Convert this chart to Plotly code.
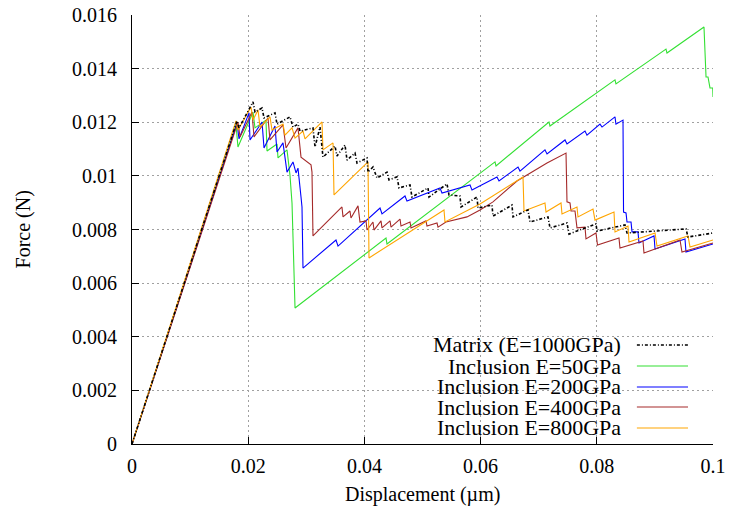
import plotly.graph_objects as go

# ---- data (displacement in µm, force in N) ----
matrix_x = [0, 0.01807, 0.01842, 0.02083, 0.02117, 0.02238, 0.02272, 0.02461, 0.02496, 0.02719, 0.02771,
            0.02857, 0.02892, 0.03115, 0.03150, 0.03236, 0.03287, 0.03494, 0.03528, 0.03666, 0.03701,
            0.03838, 0.03873, 0.04045, 0.04062, 0.04148, 0.04217, 0.04389, 0.04423, 0.04561, 0.04596,
            0.04785, 0.04819, 0.05095, 0.05112, 0.05422, 0.05456, 0.05645, 0.05663, 0.05938, 0.05955,
            0.06196, 0.06213, 0.06540, 0.06558, 0.06816, 0.06850, 0.07160, 0.07194, 0.07487, 0.07522,
            0.07986, 0.08003, 0.08485, 0.08520, 0.09535, 0.09570, 0.1]
matrix_y = [0, 0.01205, 0.01179, 0.01276, 0.01238, 0.01253, 0.01216, 0.01235, 0.01193, 0.01220, 0.01182,
            0.01193, 0.01167, 0.01179, 0.01108, 0.01182, 0.01070, 0.01111, 0.01074, 0.01115, 0.01059,
            0.01085, 0.01048, 0.01067, 0.01014, 0.01033, 0.00992, 0.01014, 0.00985, 0.00996, 0.00955,
            0.00966, 0.00921, 0.00955, 0.00921, 0.00970, 0.00929, 0.00925, 0.00884, 0.00921, 0.00880,
            0.00891, 0.00850, 0.00891, 0.00847, 0.00873, 0.00828, 0.00847, 0.00806, 0.00824, 0.00783,
            0.00821, 0.00794, 0.00817, 0.00787, 0.00802, 0.00772, 0.00787]

e50_x = [0, 0.0179, 0.01824, 0.02083, 0.02117, 0.02306, 0.02324, 0.02496, 0.02513, 0.02668, 0.02719,
         0.02754, 0.02771, 0.02806, 0.04372, 0.04389, 0.06248, 0.06265, 0.07177, 0.07194, 0.08313,
         0.08330, 0.09191, 0.09208, 0.09845, 0.09880, 0.09914, 0.09948, 0.09995, 0.1]
e50_y = [0, 0.01190, 0.01108, 0.01238, 0.01179, 0.01208, 0.01093, 0.01119, 0.01067, 0.01097, 0.01003,
         0.00899, 0.00772, 0.00507, 0.00768, 0.00746, 0.01052, 0.01037, 0.01201, 0.01186, 0.01358,
         0.01343, 0.01473, 0.01458, 0.01555, 0.01369, 0.01369, 0.01328, 0.01328, 0.01294]

e200_x = [0, 0.01807, 0.01842, 0.02014, 0.02031, 0.02238, 0.02272, 0.02461, 0.02496, 0.02599, 0.02668,
          0.02771, 0.02823, 0.02857, 0.02909, 0.02926, 0.02943, 0.03511, 0.03546, 0.04269, 0.04303,
          0.04699, 0.04733, 0.05301, 0.05336, 0.05818, 0.05852, 0.06282, 0.06317, 0.06644, 0.06678,
          0.07108, 0.07143, 0.07453, 0.07487, 0.07797, 0.07831, 0.08055, 0.08090, 0.08313, 0.08330,
          0.08451, 0.08460, 0.08503, 0.08520, 0.08589, 0.08606, 0.08709, 0.08726, 0.08985, 0.09002,
          0.09518, 0.09535, 0.1]
e200_y = [0, 0.01197, 0.01138, 0.01235, 0.01134, 0.01201, 0.01104, 0.01186, 0.01089, 0.01123, 0.01014,
          0.01052, 0.01011, 0.01029, 0.00921, 0.00884, 0.00656, 0.00761, 0.00738, 0.00880, 0.00858,
          0.00925, 0.00906, 0.00955, 0.00936, 0.00966, 0.00947, 0.00996, 0.00981, 0.01033, 0.01018,
          0.01097, 0.01082, 0.01134, 0.01119, 0.01167, 0.01152, 0.01193, 0.01182, 0.01220, 0.01193,
          0.01208, 0.00865, 0.00862, 0.00828, 0.00828, 0.00791, 0.00791, 0.00750, 0.00776, 0.00727,
          0.00765, 0.00716, 0.00746]

e400_x = [0, 0.01824, 0.01859, 0.02065, 0.02100, 0.02341, 0.02375, 0.02599, 0.02651, 0.02857, 0.02909,
          0.03081, 0.03098, 0.03115, 0.03614, 0.03632, 0.03752, 0.03769, 0.03890, 0.03924, 0.04028,
          0.04045, 0.04148, 0.04165, 0.04286, 0.04303, 0.04441, 0.04458, 0.04613, 0.04630, 0.04785,
          0.04802, 0.05060, 0.05077, 0.05250, 0.05267, 0.05404, 0.05645, 0.05766, 0.05990, 0.06213,
          0.06627, 0.07143, 0.07470, 0.07487, 0.07539, 0.07556, 0.07625, 0.07642, 0.07659, 0.07797,
          0.07814, 0.07986, 0.08012, 0.08382, 0.08399, 0.08795, 0.08812, 0.09432, 0.09466, 0.1]
e400_y = [0, 0.01201, 0.01145, 0.01238, 0.01145, 0.01216, 0.01134, 0.01190, 0.01104, 0.01179, 0.01070,
          0.01041, 0.01014, 0.00776, 0.00884, 0.00847, 0.00869, 0.00843, 0.00888, 0.00828, 0.00832,
          0.00798, 0.00828, 0.00798, 0.00832, 0.00806, 0.00832, 0.00809, 0.00839, 0.00813, 0.00828,
          0.00806, 0.00832, 0.00813, 0.00824, 0.00809, 0.00828, 0.00839, 0.00847, 0.00873, 0.00903,
          0.00981, 0.01048, 0.01085, 0.00903, 0.00899, 0.00869, 0.00869, 0.00835, 0.00806, 0.00809,
          0.00765, 0.00787, 0.00742, 0.00768, 0.00731, 0.00757, 0.00712, 0.00761, 0.00716, 0.00750]

e800_x = [0, 0.01790, 0.01824, 0.02048, 0.02083, 0.02169, 0.02203, 0.02375, 0.02410, 0.02599, 0.02633,
          0.02754, 0.02806, 0.02943, 0.02978, 0.03270, 0.03287, 0.03460, 0.03477, 0.04062, 0.04079,
          0.05370, 0.05387, 0.05990, 0.06730, 0.06747, 0.07108, 0.07126, 0.07384, 0.07401, 0.07659,
          0.07676, 0.07935, 0.07969, 0.08296, 0.08313, 0.08537, 0.08554, 0.09002, 0.09036, 0.09570,
          0.09604, 0.1]
e800_y = [0, 0.01205, 0.01171, 0.01257, 0.01208, 0.01246, 0.01182, 0.01220, 0.01171, 0.01193, 0.01152,
          0.01179, 0.01141, 0.01167, 0.01138, 0.01201, 0.01097, 0.01123, 0.00929, 0.01052, 0.00694,
          0.00873, 0.00828, 0.00895, 0.00996, 0.00869, 0.00899, 0.00865, 0.00899, 0.00858, 0.00884,
          0.00847, 0.00876, 0.00835, 0.00865, 0.00791, 0.00813, 0.00753, 0.00787, 0.00738, 0.00776,
          0.00735, 0.00761]

series_names = ["Matrix (E=1000GPa)", "Inclusion E=50GPa", "Inclusion E=200GPa",
                "Inclusion E=400GPa", "Inclusion E=800GPa"]
series_colors = ["#000000", "#33e033", "#0000ff", "#a52a2a", "#ffa500"]
series_dash = ["3px,2px,1px,2px", "solid", "solid", "solid", "solid"]
series_x = [matrix_x, e50_x, e200_x, e400_x, e800_x]
series_y = [matrix_y, e50_y, e200_y, e400_y, e800_y]

x_ticks = [0, 0.02, 0.04, 0.06, 0.08, 0.1]
x_ticklabels = ["0", "0.02", "0.04", "0.06", "0.08", "0.1"]
y_ticks = [0, 0.002, 0.004, 0.006, 0.008, 0.01, 0.012, 0.014, 0.016]
y_ticklabels = ["0", "0.002", "0.004", "0.006", "0.008", "0.01", "0.012", "0.014", "0.016"]

FONT = "Liberation Serif"
TICK_SIZE = 20
LEG_SIZE = 22

fig = go.Figure()
order = [1, 2, 3, 4, 0]
for i in order:
    fig.add_trace(go.Scatter(
        x=series_x[i], y=series_y[i], mode="lines", name=series_names[i],
        line=dict(color=series_colors[i], width=1.6 if i == 0 else 1.1, dash=series_dash[i]),
        showlegend=False, hoverinfo="skip"))

# legend box (text on left, sample line on right, gnuplot style)
fig.add_shape(type="rect", xref="paper", yref="paper", x0=0.47, x1=0.978, y0=0.002, y1=0.266,
              fillcolor="white", line=dict(width=0), layer="between")
row_y = [0.2308, 0.1818, 0.1329, 0.0862, 0.0373]
for i in range(5):
    fig.add_annotation(x=0.845, y=row_y[i], xref="paper", yref="paper", text=series_names[i],
                       showarrow=False, xanchor="right", yanchor="middle",
                       font=dict(family=FONT, size=LEG_SIZE, color="black"))
    fig.add_shape(type="line", xref="paper", yref="paper", x0=0.869, x1=0.957,
                  y0=row_y[i], y1=row_y[i],
                  line=dict(color=series_colors[i], width=1.6 if i == 0 else 1.1, dash=series_dash[i]))

# axis titles
fig.add_annotation(x=0.5, y=-0.1166, xref="paper", yref="paper", text="Displacement (µm)",
                   showarrow=False, xanchor="center", yanchor="middle",
                   font=dict(family=FONT, size=TICK_SIZE, color="black"))
fig.add_annotation(x=-0.186, y=0.5, xref="paper", yref="paper", text="Force (N)", textangle=-90,
                   showarrow=False, xanchor="center", yanchor="middle",
                   font=dict(family=FONT, size=TICK_SIZE, color="black"))

axis_common = dict(
    showline=True, linecolor="black", linewidth=1,
    ticks="inside", ticklen=7, tickcolor="black", tickwidth=1,
    showgrid=True, gridcolor="#a0a0a0", gridwidth=1, griddash="2px,3px",
    zeroline=False, automargin=False, ticklabeloverflow="allow",
    tickfont=dict(family=FONT, size=TICK_SIZE, color="black"),
)

fig.update_xaxes(range=[0, 0.1], tickvals=x_ticks, ticktext=x_ticklabels,
                 ticklabelstandoff=4, **axis_common)
fig.update_yaxes(range=[0, 0.016], tickvals=y_ticks, ticktext=y_ticklabels,
                 ticklabelstandoff=10, **axis_common)

fig.update_layout(
    width=729, height=512,
    margin=dict(l=132, r=16, t=15, b=68),
    plot_bgcolor="white", paper_bgcolor="white",
    font=dict(family=FONT, size=TICK_SIZE, color="black"),
)

# remove the page's default body margin so the figure fills the window exactly
fig.write_html("out.html", config={"displayModeBar": False},
               post_script="document.body.style.margin='0';document.body.style.overflow='hidden';")
